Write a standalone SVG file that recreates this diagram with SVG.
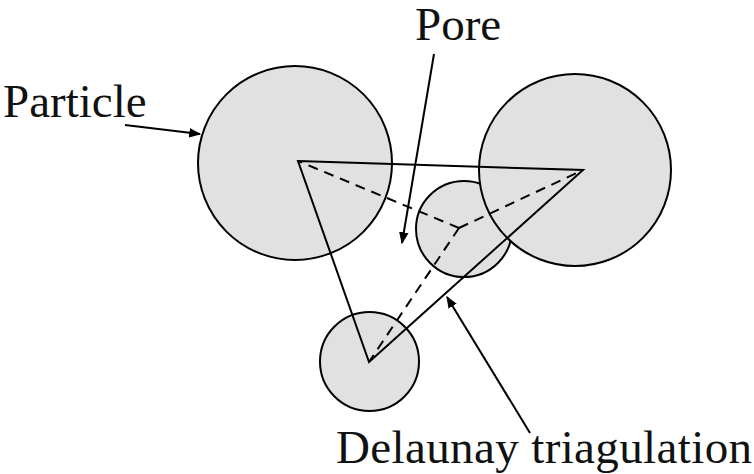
<svg xmlns="http://www.w3.org/2000/svg" width="754" height="474" viewBox="0 0 754 474">
<style>
.p{fill:#e1e1e1;stroke:#000;stroke-width:2}
.e{stroke:#000;stroke-width:2;fill:none}
.d{stroke:#000;stroke-width:2;fill:none;stroke-dasharray:10 7}
.a{stroke:#000;stroke-width:2;fill:none;marker-end:url(#ah)}
text{font-family:"Liberation Serif","Times New Roman",serif;font-size:47px;fill:#111}
</style>
<defs>
<marker id="ah" viewBox="0 0 10 10" refX="9" refY="5" markerWidth="6" markerHeight="6" orient="auto" markerUnits="strokeWidth">
<path d="M0,1 L10,5 L0,9 Z" fill="#000"/>
</marker>
</defs>
<rect width="754" height="474" fill="#fff"/>
<g id="particle-left"><circle class="p" cx="295" cy="163" r="97"/></g>
<g id="particle-middle"><circle class="p" cx="464" cy="229" r="48"/></g>
<g id="particle-right"><circle class="p" cx="575" cy="170" r="96"/></g>
<g id="particle-bottom"><circle class="p" cx="369.5" cy="361.5" r="49.5"/></g>
<g id="connectors">
<polygon class="e" points="298,161 583,170 369,362"/>
<line class="d" x1="459" y1="228" x2="298" y2="161"/>
<line class="d" x1="459" y1="228" x2="583" y2="170"/>
<line class="d" x1="459" y1="228" x2="369" y2="362"/>
<line class="a" x1="125" y1="125" x2="200" y2="134"/>
<line class="a" x1="434" y1="54" x2="402" y2="243"/>
<line class="a" x1="530" y1="433" x2="447" y2="297"/>
</g>
<g id="label-particle"><text x="3" y="117">Particle</text></g>
<g id="label-pore"><text x="415" y="40">Pore</text></g>
<g id="label-delaunay"><text x="336" y="463" textLength="416">Delaunay triagulation</text></g>
</svg>
